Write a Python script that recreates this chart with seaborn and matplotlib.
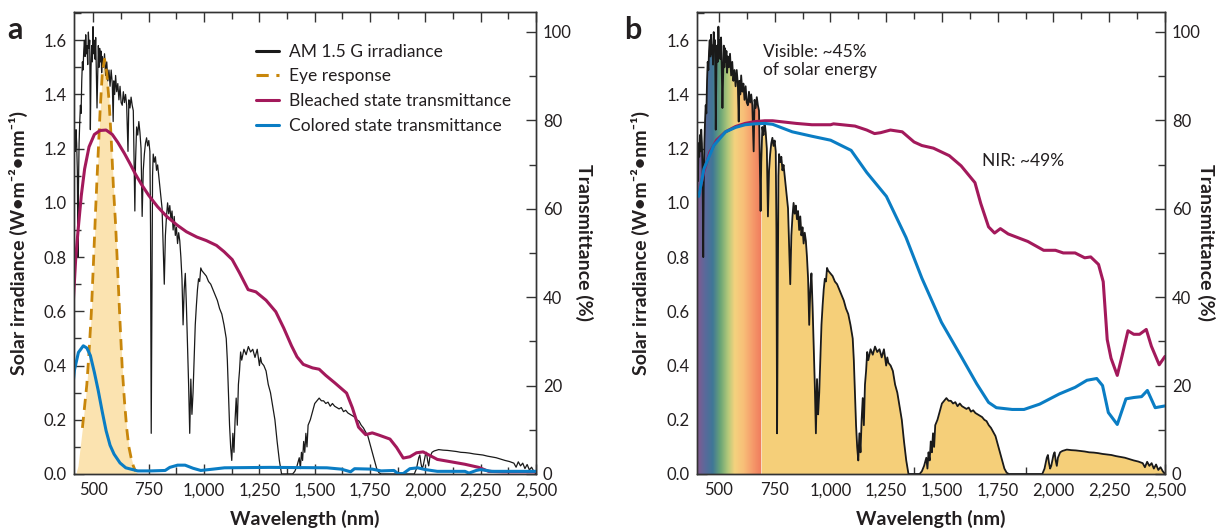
import numpy as np
import pandas as pd
import seaborn as sns
import matplotlib.pyplot as plt
from matplotlib.colors import LinearSegmentedColormap
from matplotlib.ticker import MultipleLocator, FuncFormatter

# AM 1.5 G solar irradiance (W m-2 nm-1)
wavelength = [
    400, 403, 406, 409, 412, 415, 418, 421, 424, 427, 430, 432, 435, 438, 441, 444, 447, 450,
    453, 456, 459, 462, 465, 468, 471, 474, 477, 480, 483, 486, 489, 492, 495, 498, 501, 504,
    507, 510, 513, 516, 519, 522, 525, 528, 531, 534, 537, 540, 545, 550, 555, 560, 565, 570,
    575, 580, 585, 589, 592, 596, 600, 605, 610, 615, 620, 625, 630, 635, 640, 645, 650, 656,
    660, 665, 670, 675, 680, 687, 690, 695, 700, 705, 710, 715, 720, 725, 730, 735, 740, 745,
    750, 755, 758, 761, 764, 767, 770, 775, 780, 785, 790, 795, 800, 805, 810, 815, 820, 825,
    830, 835, 840, 845, 850, 855, 860, 865, 870, 875, 880, 885, 890, 895, 900, 905, 910, 915,
    920, 925, 930, 935, 940, 945, 950, 955, 960, 965, 970, 975, 980, 985, 990, 1000, 1010, 1020,
    1030, 1040, 1050, 1060, 1070, 1080, 1090, 1100, 1105, 1110, 1115, 1120, 1125, 1130, 1135,
    1140, 1145, 1150, 1155, 1160, 1165, 1170, 1180, 1190, 1200, 1210, 1220, 1230, 1240, 1250,
    1255, 1260, 1270, 1280, 1290, 1300, 1310, 1320, 1330, 1340, 1350, 1400, 1410, 1420, 1430,
    1435, 1440, 1445, 1450, 1455, 1460, 1465, 1470, 1480, 1490, 1500, 1510, 1520, 1530, 1540,
    1550, 1560, 1570, 1580, 1590, 1600, 1610, 1620, 1630, 1640, 1650, 1660, 1670, 1680, 1690,
    1700, 1710, 1720, 1730, 1740, 1750, 1760, 1770, 1780, 1790, 1800, 1950, 1960, 1970, 1975,
    1980, 1985, 1990, 2000, 2005, 2010, 2015, 2020, 2030, 2040, 2060, 2080, 2100, 2120, 2140,
    2160, 2180, 2200, 2220, 2240, 2260, 2280, 2300, 2320, 2340, 2360, 2380, 2400, 2410, 2420,
    2430, 2440, 2450, 2460, 2470, 2480, 2490, 2500,
]
irradiance = [
    1.10, 1.20, 1.08, 1.22, 1.17, 1.25, 1.19, 1.27, 1.22, 1.12, 0.80, 1.05, 1.22, 1.30, 1.36, 1.33, 1.45, 1.52,
    1.49, 1.56, 1.60, 1.54, 1.62, 1.55, 1.58, 1.51, 1.63, 1.57, 1.60, 1.27, 1.50, 1.58, 1.52, 1.65, 1.55, 1.60,
    1.53, 1.61, 1.49, 1.35, 1.46, 1.58, 1.50, 1.57, 1.52, 1.56, 1.48, 1.54, 1.50, 1.55, 1.47, 1.52, 1.45, 1.49,
    1.43, 1.49, 1.44, 1.30, 1.45, 1.40, 1.47, 1.41, 1.44, 1.38, 1.43, 1.37, 1.36, 1.41, 1.37, 1.40, 1.36, 1.19,
    1.38, 1.35, 1.39, 1.36, 1.34, 0.97, 1.15, 1.28, 1.25, 1.30, 1.26, 1.20, 0.95, 1.12, 1.18, 1.22, 1.24, 1.21,
    1.23, 1.19, 0.90, 0.15, 0.60, 1.10, 1.18, 1.15, 1.17, 1.12, 1.14, 1.10, 1.06, 1.02, 0.98, 0.84, 0.70, 0.88,
    0.95, 1.00, 0.96, 0.99, 0.94, 0.97, 0.90, 0.95, 0.88, 0.91, 0.85, 0.89, 0.86, 0.80, 0.72, 0.55, 0.68, 0.74,
    0.62, 0.48, 0.33, 0.15, 0.35, 0.22, 0.30, 0.42, 0.55, 0.62, 0.68, 0.72, 0.71, 0.76, 0.75, 0.74, 0.73, 0.71,
    0.70, 0.68, 0.66, 0.64, 0.61, 0.59, 0.55, 0.50, 0.42, 0.30, 0.18, 0.10, 0.05, 0.15, 0.08,
    0.20, 0.28, 0.18, 0.33, 0.38, 0.45, 0.42, 0.46, 0.44, 0.47, 0.45, 0.46, 0.43, 0.46, 0.40,
    0.43, 0.41, 0.40, 0.38, 0.33, 0.30, 0.25, 0.20, 0.12, 0.05, 0.0, 0.0, 0.01, 0.03, 0.06,
    0.02, 0.08, 0.05, 0.12, 0.08, 0.15, 0.10, 0.18, 0.20, 0.23, 0.26, 0.27, 0.28, 0.27, 0.27,
    0.26, 0.265, 0.25, 0.26, 0.25, 0.245, 0.24, 0.245, 0.23, 0.235, 0.225, 0.22, 0.215, 0.21, 0.20,
    0.195, 0.18, 0.17, 0.155, 0.14, 0.11, 0.08, 0.05, 0.02, 0.005, 0.0, 0.0, 0.02, 0.06, 0.07,
    0.04, 0.02, 0.03, 0.07, 0.08, 0.05, 0.03, 0.06, 0.08, 0.085, 0.09, 0.088, 0.087, 0.085, 0.083,
    0.08, 0.079, 0.077, 0.074, 0.072, 0.07, 0.066, 0.063, 0.06, 0.055, 0.05, 0.046, 0.04, 0.025, 0.045,
    0.03, 0.04, 0.02, 0.035, 0.015, 0.025, 0.01, 0.0,
]

# eye response, scaled to the irradiance axis
eye_wl = [420, 430, 440, 450, 460, 470, 480, 490, 500, 510, 520, 530, 540, 550, 560,
          570, 580, 590, 600, 610, 620, 630, 640, 650, 660, 670, 680, 690, 700]
eye_val = [0.0, 0.03, 0.10, 0.17, 0.25, 0.33, 0.45, 0.59, 0.78, 0.98, 1.16, 1.34, 1.48, 1.53, 1.48,
           1.38, 1.24, 1.06, 0.92, 0.74, 0.56, 0.39, 0.27, 0.17, 0.10, 0.06, 0.03, 0.01, 0.0]

# panel a transmittance (%)
bleach_a_wl = [400, 410, 420, 432, 445, 460, 480, 504, 530, 557, 585, 610, 640, 664, 690, 717, 750,
               789, 830, 878, 920, 967, 1010, 1056, 1090, 1127, 1160, 1199, 1234, 1280, 1324, 1360,
               1395, 1420, 1448, 1490, 1520, 1550, 1591, 1644, 1670, 1698, 1730, 1760, 1790, 1840,
               1870, 1900, 1930, 1960, 1990, 2020, 2054, 2100, 2179, 2241, 2286, 2350, 2500]
bleach_a = [26, 40, 49, 56, 63, 69, 74, 76.8, 77.7, 77.8, 76.8, 75, 72.5, 70.3, 67.8, 65.5, 63,
            60.5, 58.3, 56.3, 54.8, 53.6, 52.8, 51.7, 50.3, 48.5, 45.5, 41.7, 41.2, 39.3, 36.7, 33,
            29, 26.5, 24.8, 24, 23.7, 22.3, 20.6, 18.3, 15, 10.6, 8.9, 9.3, 8.8, 7.9,
            6, 3.6, 3.9, 4.8, 5.0, 4.2, 3.3, 2.9, 2.2, 1.5, 0.6, 0.5, 0.5]
color_a_wl = [400, 407, 414, 432, 454, 470, 486, 504, 521, 540, 557, 575, 593, 620, 646, 700, 760,
              824, 845, 880, 914, 950, 985, 1040, 1092, 1300, 1555, 1620, 1662, 1680, 1760, 1800,
              1858, 1876, 1900, 1930, 1965, 2000, 2054, 2179, 2197, 2230, 2250, 2300, 2500]
color_a = [14, 20, 23.5, 27.5, 29, 28.5, 26.8, 23, 19, 14, 9.8, 6.5, 4.5, 2.5, 1.4, 0.7, 0.7,
           0.8, 1.5, 2.0, 2.0, 1.3, 0.8, 1.1, 1.4, 1.5, 1.4, 1.1, 0.5, 1.2, 1.1, 0.7,
           0.8, 0.1, 0.1, 1.2, 1.4, 1.0, 0.6, 0.6, 0.2, 0.8, 1.0, 0.6, 0.6]

# panel b transmittance (%)
bleach_b_wl = [410, 433, 460, 490, 530, 575, 618, 660, 706, 741, 847, 917, 1001, 1014, 1110, 1163,
               1198, 1225, 1269, 1322, 1375, 1410, 1462, 1533, 1586, 1648, 1674, 1709, 1736, 1762,
               1797, 1885, 1956, 2009, 2044, 2097, 2140, 2167, 2202, 2223, 2241, 2258, 2286, 2307,
               2334, 2360, 2386, 2416, 2439, 2474, 2500]
bleach_b = [63.2, 68.5, 72.8, 75.5, 77.4, 78.6, 79.3, 79.7, 79.9, 79.9, 79.3, 79, 79, 79.2, 78.7, 77.8,
            77, 77.2, 77.8, 77.4, 75.1, 74.3, 73.7, 72, 69.7, 65.9, 61.2, 55.9, 54.5, 55.5,
            54.3, 52.6, 50.6, 50.6, 50, 50, 48.9, 49.1, 47.4, 43.5, 30.4, 26.2, 22.3, 26.6,
            32.4, 31.6, 31.6, 32.7, 28.9, 24.7, 26.6]
color_b_wl = [410, 433, 477, 530, 575, 618, 660, 706, 741, 829, 917, 1001, 1093, 1163, 1251, 1339,
              1410, 1498, 1586, 1656, 1709, 1744, 1815, 1868, 1938, 2026, 2097, 2150, 2194, 2220,
              2246, 2286, 2325, 2360, 2395, 2421, 2456, 2500]
color_b = [62.8, 69, 74.3, 77.4, 78.4, 79, 79.2, 79.3, 79.1, 77.4, 76.4, 75.5, 73.2, 68.2, 62.8, 53.5,
           44.3, 34.3, 26.6, 20.4, 16.2, 15, 14.6, 14.6, 15.8, 18.1, 19.6, 21.2, 21.6, 20,
           13.9, 11.2, 17, 17.3, 17.5, 18.9, 15, 15.4]

legend_labels = ["AM 1.5 G irradiance", "Eye response",
                 "Bleached state transmittance", "Colored state transmittance"]

spectrum = pd.DataFrame({"wl": wavelength, "irr": irradiance})
eye = pd.DataFrame({"wl": eye_wl, "val": eye_val})

MAGENTA = "#a3195b"
BLUE = "#0a7dc4"
GOLD = "#c8860a"
TXT = "#231f20"

sns.set_style("ticks")
plt.rcParams["font.family"] = ["Lato", "DejaVu Sans"]
plt.rcParams["axes.edgecolor"] = "#333333"
plt.rcParams["xtick.color"] = "#333333"
plt.rcParams["ytick.color"] = "#333333"

fig = plt.figure(figsize=(12.18, 5.32), dpi=100)
ax_a = fig.add_axes([74 / 1218, 58 / 532, 462 / 1218, 462 / 532])
ax_b = fig.add_axes([697 / 1218, 58 / 532, 468 / 1218, 462 / 532])


def style_axes(ax, xmin, right_label_x):
    ax.set_xlim(xmin, 2500)
    ax.set_ylim(0, 1.704)
    tw = ax.twinx()
    tw.set_ylim(0, 104.5)
    ax.set_xticks(range(500, 2501, 250))
    ax.xaxis.set_major_formatter(FuncFormatter(lambda v, p: f"{int(v):,}"))
    ax.xaxis.set_minor_locator(MultipleLocator(125))
    ax.set_yticks(np.arange(0, 1.61, 0.2))
    ax.yaxis.set_major_formatter(FuncFormatter(lambda v, p: f"{v:.1f}"))
    ax.yaxis.set_minor_locator(MultipleLocator(0.1))
    tw.set_yticks(range(0, 101, 20))
    tw.yaxis.set_minor_locator(MultipleLocator(10))
    ax.tick_params(axis="x", which="both", direction="in", top=True, labelsize=12,
                   labelcolor=TXT, pad=6)
    ax.tick_params(axis="x", which="major", length=7, width=1)
    ax.tick_params(axis="x", which="minor", length=5, width=1)
    ax.tick_params(axis="y", which="both", direction="in", labelsize=12, labelcolor=TXT, pad=5)
    ax.tick_params(axis="y", which="major", length=7, width=1)
    ax.tick_params(axis="y", which="minor", length=5, width=1)
    tw.tick_params(axis="y", which="both", direction="in", labelsize=12, labelcolor=TXT, pad=5)
    tw.tick_params(axis="y", which="major", length=7, width=1)
    tw.tick_params(axis="y", which="minor", length=5, width=1)
    ax.set_xlabel("Wavelength (nm)", fontsize=14, fontweight="bold", color=TXT)
    ax.set_ylabel("Solar irradiance (W•m\u207b\u00b2•nm\u207b\u00b9)", fontsize=14,
                  fontweight="bold", color=TXT)
    tw.set_ylabel("Transmittance (%)", fontsize=14, fontweight="bold", color=TXT,
                  rotation=270, va="center")
    ax.xaxis.set_label_coords(0.5, -0.078)
    ax.yaxis.set_label_coords(-0.10, 0.5)
    tw.yaxis.set_label_coords(right_label_x, 0.5)
    for t in (ax, tw):
        for s in t.spines.values():
            s.set_linewidth(1.0)
            s.set_color("#333333")
    return tw


# ---------- panel a ----------
tw_a = style_axes(ax_a, 412, 1.105)
ax_a.fill_between(eye["wl"], eye["val"], 0, color="#fbe3b0", lw=0, zorder=1)
sns.lineplot(data=spectrum, x="wl", y="irr", ax=ax_a, color="#1a1a1a", lw=0.9,
             estimator=None, sort=False, legend=False, zorder=3)
eye_line = eye[(eye["wl"] >= 450) & (eye["wl"] <= 690)]
sns.lineplot(data=eye_line, x="wl", y="val", ax=ax_a, color=GOLD, lw=2.0,
             linestyle=(0, (4, 2.5)), estimator=None, sort=False, legend=False, zorder=4)
sns.lineplot(x=bleach_a_wl, y=bleach_a, ax=tw_a, color=MAGENTA, lw=2.2,
             estimator=None, sort=False, legend=False)
sns.lineplot(x=color_a_wl, y=color_a, ax=tw_a, color=BLUE, lw=2.2,
             estimator=None, sort=False, legend=False)
ax_a.set_xlabel("Wavelength (nm)", fontsize=14, fontweight="bold", color=TXT)

handles = [ax_a.lines[0], ax_a.lines[1], tw_a.lines[0], tw_a.lines[1]]
leg = tw_a.legend(handles, legend_labels, loc="upper left", bbox_to_anchor=(0.36, 0.965),
                  frameon=False, fontsize=12.5, handlelength=1.35, handletextpad=0.55,
                  labelspacing=0.5)
for t in leg.get_texts():
    t.set_color(TXT)
for h in leg.legend_handles:
    h.set_linewidth(2.2)

# ---------- panel b ----------
tw_b = style_axes(ax_b, 402, 1.088)
vis = spectrum[spectrum["wl"] <= 690]
nir = spectrum[spectrum["wl"] >= 690]
poly = ax_b.fill_between(vis["wl"], vis["irr"], 0, facecolor="none", edgecolor="none")
rainbow = LinearSegmentedColormap.from_list("vis", [
    (0.0, "#84598f"), (0.12, "#5b699b"), (0.24, "#3f7797"), (0.36, "#6aa576"),
    (0.48, "#b5c97a"), (0.58, "#f4d27e"), (0.72, "#f8bf78"), (0.86, "#f59a6a"),
    (1.0, "#f07a5c")])
im = ax_b.imshow(np.linspace(0, 1, 256)[None, :], cmap=rainbow, aspect="auto",
                 extent=(402, 690, 0, 1.704), zorder=1, interpolation="bilinear")
im.set_clip_path(poly.get_paths()[0], transform=ax_b.transData)
ax_b.fill_between(nir["wl"], nir["irr"], 0, color="#f5cf79", lw=0, zorder=1)
sns.lineplot(data=spectrum, x="wl", y="irr", ax=ax_b, color="#1a1a1a", lw=1.3,
             estimator=None, sort=False, legend=False, zorder=3)
sns.lineplot(x=bleach_b_wl, y=bleach_b, ax=tw_b, color=MAGENTA, lw=2.2,
             estimator=None, sort=False, legend=False)
sns.lineplot(x=color_b_wl, y=color_b, ax=tw_b, color=BLUE, lw=2.2,
             estimator=None, sort=False, legend=False)
ax_b.set_xlim(402, 2500)
ax_b.set_ylim(0, 1.704)
ax_b.set_xlabel("Wavelength (nm)", fontsize=14, fontweight="bold", color=TXT)

tw_b.text(0.14, 0.93, "Visible: ~45%\nof solar energy", transform=tw_b.transAxes,
          fontsize=12.5, color=TXT, va="top", ha="left", linespacing=1.15)
tw_b.text(0.61, 0.677, "NIR: ~49%", transform=tw_b.transAxes, fontsize=12.5,
          color=TXT, va="center", ha="left")

fig.text(15 / 1218, 1 - 30 / 532, "a", fontsize=22, fontweight="bold", color=TXT,
         ha="center", va="center")
fig.text(633 / 1218, 1 - 30 / 532, "b", fontsize=22, fontweight="bold", color=TXT,
         ha="center", va="center")

fig.savefig("out.png", dpi=100)
